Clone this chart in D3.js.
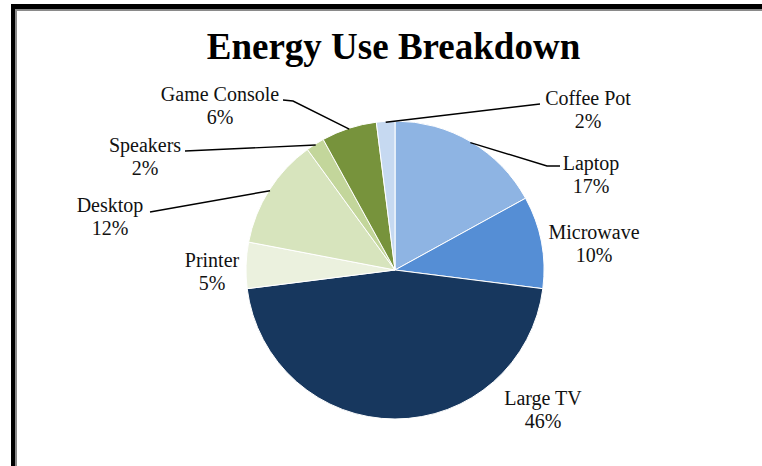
<!DOCTYPE html>
<html><head><meta charset="utf-8">
<script src="https://cdn.jsdelivr.net/npm/d3@7"></script>
<style>html,body{margin:0;padding:0;background:#fff;}svg{display:block;}</style>
</head><body>
<svg id="c" width="762" height="466"></svg>
<script>
const title = "Energy Use Breakdown";
const categories = ["Laptop","Microwave","Large TV","Printer","Desktop","Speakers","Game Console","Coffee Pot"];
const values = [17,10,46,5,12,2,6,2];
const colors = ["#8EB4E3","#558ED5","#17375E","#EBF1DE","#D7E4BD","#C3D69B","#77933C","#C6D9F1"];
// label layout: centre x, baseline y of first line, leader polyline end points (after arc point)
const labelX = [591,594,543,212,110,145,220,588];
const labelY = [170,239,405,267,212,152,101,105];
const leaders = [
  [[547,166],[560,166]],
  null,
  null,
  null,
  [[150,212]],
  [[185,151]],
  [[293,101],[283,100]],
  [[540,104]]
];

const svg = d3.select("#c");
svg.append("rect").attr("width",762).attr("height",466).attr("fill","#fff");
// frame
svg.append("rect").attr("x",15).attr("y",9).attr("width",747).attr("height",2).attr("fill","#8a8a8a");
svg.append("rect").attr("x",15).attr("y",9).attr("width",2).attr("height",457).attr("fill","#8a8a8a");
svg.append("rect").attr("x",11).attr("y",4).attr("width",751).attr("height",5).attr("fill","#000");
svg.append("rect").attr("x",11).attr("y",4).attr("width",4).attr("height",462).attr("fill","#000");

svg.append("text").attr("x",393.5).attr("y",59).attr("text-anchor","middle")
  .attr("font-family","'Liberation Serif','Times New Roman',serif").attr("font-weight","bold")
  .attr("font-size",37).attr("fill","#000").text(title);

const cx = 395, cy = 270, R = 149;
const data = categories.map((c,i)=>({name:c, value:values[i], i}));
const pie = d3.pie().value(d=>d.value).sort(null);
const arcs = pie(data);
const arc = d3.arc().innerRadius(0).outerRadius(R);
const g = svg.append("g").attr("transform",`translate(${cx},${cy})`);
g.selectAll("path").data(arcs).join("path")
  .attr("d",arc).attr("fill",d=>colors[d.data.i])
  .attr("stroke","#fff").attr("stroke-width",1).attr("stroke-linejoin","round");

// leader lines
const total = d3.sum(values);
arcs.forEach(a=>{
  const L = leaders[a.data.i];
  if(!L) return;
  const m = (a.startAngle+a.endAngle)/2;
  const p0 = [cx + (R-1)*Math.sin(m), cy - (R-1)*Math.cos(m)];
  svg.append("path").attr("d", d3.line()([p0, ...L]))
    .attr("fill","none").attr("stroke","#000").attr("stroke-width",1.4);
});

// labels
arcs.forEach(a=>{
  const i = a.data.i;
  const t = svg.append("text").attr("text-anchor","middle")
    .attr("font-family","'Liberation Serif','Times New Roman',serif")
    .attr("font-size",20).attr("fill","#111");
  t.append("tspan").attr("x",labelX[i]).attr("y",labelY[i]).text(a.data.name);
  t.append("tspan").attr("x",labelX[i]).attr("dy",23).text(Math.round(a.data.value/total*100)+"%");
});
</script>
</body></html>
